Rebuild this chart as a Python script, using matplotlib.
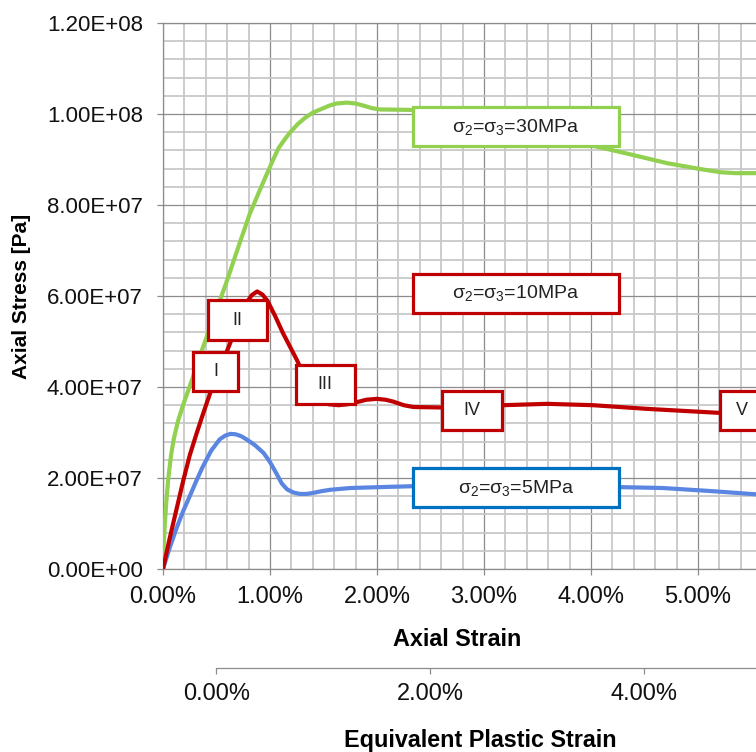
import matplotlib
matplotlib.use("Agg")
import matplotlib.pyplot as plt
from matplotlib.patches import Rectangle
from matplotlib.ticker import FuncFormatter, MultipleLocator

plt.rcParams['font.family'] = ['Liberation Sans', 'DejaVu Sans']
plt.rcParams['mathtext.fontset'] = 'custom'
plt.rcParams['mathtext.rm'] = 'Liberation Sans'
plt.rcParams['mathtext.it'] = 'Liberation Sans:italic'

# ---- data (strain in %, stress in 1e7 Pa) ----
strain_30 = [0.00, 0.005, 0.015, 0.03, 0.05, 0.075, 0.10, 0.14, 0.19, 0.24, 0.28, 0.37,
             0.47, 0.60, 0.70, 0.81, 0.90, 0.97, 1.03, 1.08, 1.14, 1.19, 1.26, 1.33,
             1.40, 1.47, 1.55, 1.62, 1.72, 1.80, 1.88, 1.95, 2.03, 2.31, 2.60, 3.00,
             3.50, 4.08, 4.39, 4.71, 5.02, 5.21, 5.35, 5.55]
stress_30 = [0.00, 0.40, 0.90, 1.45, 2.00, 2.50, 2.85, 3.25, 3.62, 3.95, 4.22, 4.85,
             5.50, 6.35, 7.05, 7.80, 8.30, 8.68, 9.00, 9.25, 9.45, 9.60, 9.78, 9.92,
             10.03, 10.10, 10.18, 10.23, 10.25, 10.23, 10.18, 10.13, 10.10, 10.09, 10.00, 9.80,
             9.55, 9.27, 9.10, 8.92, 8.79, 8.72, 8.70, 8.70]

strain_10 = [0.00, 0.06, 0.13, 0.19, 0.25, 0.31, 0.37, 0.45, 0.53, 0.61, 0.70, 0.78,
             0.83, 0.88, 0.93, 0.98, 1.05, 1.12, 1.25, 1.35, 1.45, 1.55, 1.64, 1.72,
             1.80, 1.90, 2.00, 2.08, 2.15, 2.25, 2.34, 2.60, 2.90, 3.18, 3.59, 4.02,
             4.52, 5.21, 5.55]
stress_10 = [0.00, 0.65, 1.35, 1.95, 2.50, 2.95, 3.38, 3.93, 4.40, 4.86, 5.40, 5.85,
             6.02, 6.10, 6.03, 5.88, 5.55, 5.19, 4.60, 4.10, 3.75, 3.62, 3.60, 3.62,
             3.66, 3.72, 3.74, 3.72, 3.68, 3.60, 3.56, 3.55, 3.58, 3.60, 3.63, 3.60,
             3.52, 3.43, 3.40]

strain_5 = [0.00, 0.06, 0.13, 0.19, 0.25, 0.31, 0.37, 0.45, 0.53, 0.58, 0.63, 0.68,
            0.73, 0.78, 0.86, 0.94, 1.00, 1.06, 1.11, 1.16, 1.22, 1.28, 1.34, 1.40,
            1.48, 1.56, 1.75, 2.03, 2.34, 3.00, 3.60, 4.26, 4.67, 5.14, 5.55]
stress_5 = [0.00, 0.45, 0.92, 1.28, 1.60, 1.93, 2.24, 2.60, 2.85, 2.93, 2.97, 2.96,
            2.92, 2.85, 2.72, 2.55, 2.35, 2.10, 1.88, 1.75, 1.68, 1.65, 1.65, 1.67,
            1.71, 1.74, 1.78, 1.80, 1.82, 1.82, 1.81, 1.80, 1.78, 1.71, 1.64]

series_labels = [r'σ$_2$=σ$_3$=30MPa', r'σ$_2$=σ$_3$=10MPa', r'σ$_2$=σ$_3$=5MPa']
stage_labels = ['I', 'II', 'III', 'IV', 'V']
y_ticks = [0, 2e7, 4e7, 6e7, 8e7, 1e8, 1.2e8]
x_ticks = [0, 0.01, 0.02, 0.03, 0.04, 0.05]
plastic_ticks = [0, 0.02, 0.04]
plastic_offset = 0.005  # plastic strain = axial strain - offset

GREEN = '#92D050'
RED = '#C00000'
BLUE = '#5A86E2'
BOX_BLUE = '#0070C0'

fig = plt.figure(figsize=(7.56, 7.52), dpi=100)
ax = fig.add_axes([163/756, 183/752, (756-163)/756, 546/752])

kw = dict(lw=3, solid_capstyle='round', solid_joinstyle='round')
ax.plot([s/100 for s in strain_30], [v*1e7 for v in stress_30], color=GREEN, zorder=3, **kw)
ax.plot([s/100 for s in strain_10], [v*1e7 for v in stress_10], color=RED, zorder=4, **kw)
ax.plot([s/100 for s in strain_5], [v*1e7 for v in stress_5], color=BLUE, zorder=3, **kw)

ax.set_xlim(0, (756-163)/107/100)
ax.set_ylim(0, 1.2e8)
ax.set_xticks(x_ticks)
ax.set_yticks(y_ticks)
ax.xaxis.set_minor_locator(MultipleLocator(0.002))
ax.yaxis.set_minor_locator(MultipleLocator(4e6))
ax.xaxis.set_major_formatter(FuncFormatter(lambda v, p: '%.2f%%' % (v*100)))
ax.yaxis.set_major_formatter(FuncFormatter(lambda v, p: '%.2E' % v))

ax.grid(which='minor', color='#c8c8c8', lw=1.3, zorder=0)
ax.grid(which='major', color='#8c8c8c', lw=0.9, zorder=1)
ax.set_axisbelow(True)
ax.tick_params(axis='x', which='major', length=4, width=0.9, color='#8c8c8c', pad=8,
               labelsize=17, labelcolor='#111111')
ax.tick_params(axis='y', which='major', length=4.5, width=0.9, color='#8c8c8c', pad=10,
               labelsize=16, labelcolor='#111111')
ax.tick_params(which='minor', length=0)
ax.spines['right'].set_visible(False)
for s in ['left', 'bottom', 'top']:
    ax.spines[s].set_color('#8c8c8c')
    ax.spines[s].set_linewidth(0.9)

ax.set_ylabel('Axial Stress [Pa]', fontsize=15, fontweight='bold')
ax.yaxis.set_label_coords(-(163-22)/593, 0.50)
ax.yaxis.label.set_verticalalignment('center')
ax.set_xlabel('Axial Strain', fontsize=16.8, fontweight='bold')
ax.xaxis.set_label_coords((457-163)/593, -(639-569)/546)
ax.xaxis.label.set_verticalalignment('center')

# secondary axis: equivalent plastic strain
sec = ax.secondary_xaxis(-(668-569)/546,
                         functions=(lambda x: x - plastic_offset, lambda x: x + plastic_offset))
sec.set_xticks(plastic_ticks)
sec.xaxis.set_major_formatter(FuncFormatter(lambda v, p: '%.2f%%' % (v*100)))
sec.spines['bottom'].set_bounds(0, 0.06)
sec.spines['bottom'].set_color('#8c8c8c')
sec.spines['bottom'].set_linewidth(0.9)
sec.tick_params(axis='x', length=4, width=0.9, color='#8c8c8c', pad=7,
                labelsize=17, labelcolor='#111111')
fig.text(480/756, 1 - 741/752, 'Equivalent Plastic Strain', fontsize=16.8, fontweight='bold',
         ha='center', va='center')

# annotation boxes (x in %, y in 1e7 Pa): (x0, x1, y0, y1)
def box(x0, x1, y0, y1, text, ec, fs, tx=None):
    r = Rectangle((x0/100, y0*1e7), (x1-x0)/100, (y1-y0)*1e7, facecolor='white',
                  edgecolor=ec, lw=2.3, zorder=6, clip_on=True)
    ax.add_patch(r)
    cx = (x0+x1)/2 if tx is None else tx
    ax.text(cx/100, (y0+y1)/2*1e7, text, ha='center', va='center', fontsize=fs,
            color='#222222', zorder=7, clip_on=True)

box(2.34, 4.26, 9.30, 10.15, series_labels[0], GREEN, 14)
box(2.34, 4.26, 5.63, 6.48, series_labels[1], RED, 14)
box(2.34, 4.26, 1.36, 2.22, series_labels[2], BOX_BLUE, 14)
box(0.28, 0.70, 3.91, 4.77, stage_labels[0], RED, 13)
box(0.42, 0.97, 5.03, 5.91, stage_labels[1], RED, 13)
box(1.24, 1.79, 3.63, 4.48, stage_labels[2], RED, 13)
box(2.61, 3.17, 3.05, 3.91, stage_labels[3], RED, 13)
box(5.21, 5.90, 3.05, 3.91, stage_labels[4], RED, 13, tx=5.41)

fig.savefig('out.png', dpi=100)
